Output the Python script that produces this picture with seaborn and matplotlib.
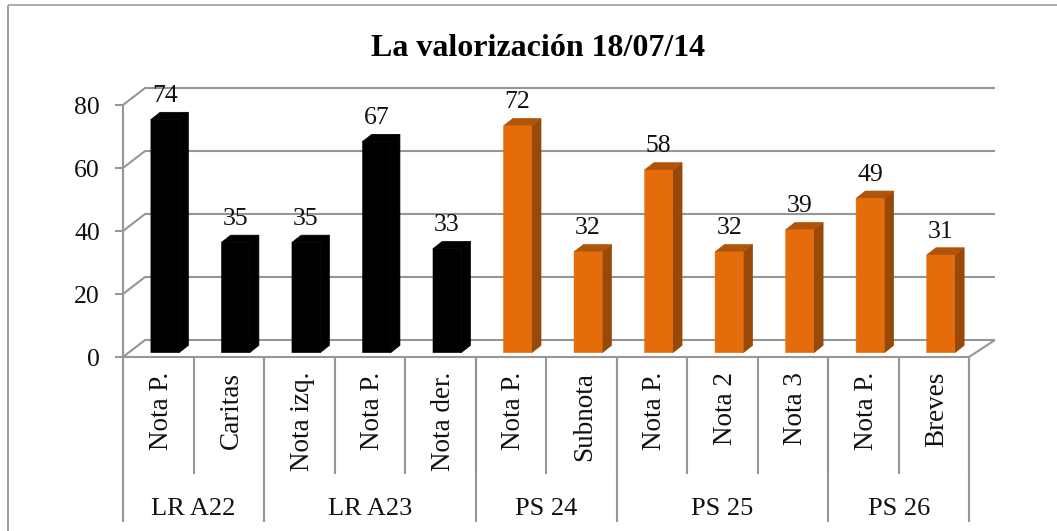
import matplotlib
matplotlib.use("Agg")
import matplotlib.pyplot as plt
import pandas as pd
import seaborn as sns
from matplotlib.lines import Line2D
from matplotlib.patches import Polygon
from matplotlib.transforms import IdentityTransform

# values
labels = ['Nota P.', 'Caritas', 'Nota izq.', 'Nota P.', 'Nota der.', 'Nota P.',
          'Subnota', 'Nota P.', 'Nota 2', 'Nota 3', 'Nota P.', 'Breves']
values = [74, 35, 35, 67, 33, 72, 32, 58, 32, 39, 49, 31]
papers = ['LR'] * 5 + ['PS'] * 7
groups = ['LR A22', 'LR A23', 'PS 24', 'PS 25', 'PS 26']
group_sizes = [2, 3, 2, 3, 2]
y_ticks = [0, 20, 40, 60, 80]
title = 'La valorización 18/07/14'

W, H = 1057, 531
GRID = '#969696'
FACE = {'LR': '#000000', 'PS': '#E46C0A'}
TOP = {'LR': '#000000', 'PS': '#B05408'}
SIDE = {'LR': '#000000', 'PS': '#984807'}

sns.set_theme(style='white')
plt.rcParams['font.family'] = ['Liberation Serif', 'DejaVu Serif']

fig = plt.figure(figsize=(W / 100, H / 100), dpi=100)
# axes sit on the plane of the bars: 0 at y=352.7, 80 at y=100.7, in image pixels
ax = fig.add_axes([129.7 / W, 1 - 352.7 / H, 846.3 / W, 252 / H])
ax.patch.set_alpha(0)

df = pd.DataFrame({'pos': range(len(values)), 'value': values, 'paper': papers})
sns.barplot(data=df, x='pos', y='value', hue='paper', palette=FACE, dodge=False,
            width=0.4, legend=False, ax=ax, saturation=1, linewidth=0)
ax.set_xlim(-0.5, len(values) - 0.5)
ax.set_ylim(0, 80)
ax.axis('off')


def frame_line(xs, ys, lw=1.5):
    # xs, ys in image pixels, y measured from the top
    fig.add_artist(Line2D(xs, [H - y for y in ys], color=GRID, lw=lw, zorder=-1,
                          transform=IdentityTransform(), solid_capstyle='butt'))


# chart border: left and top only, the reference is cropped on the other sides
frame_line([8, 8], [5, H], lw=1.3)
frame_line([8, W], [5, 5], lw=1.1)

# walls, floor and value ticks
for t in y_ticks:
    y_front = 357 - t * 3.15
    y_back = 340 - t * 3.15
    frame_line([115, 123, 145, 995], [y_front, y_front, y_back, y_back])
frame_line([123, 123], [105, 522])
frame_line([123, 969, 995], [357, 357, 340])
for t, y_front in zip(y_ticks, [357 - t * 3.15 for t in y_ticks]):
    fig.text(100 / W, 1 - (y_front + 9) / H, str(t), ha='right', va='baseline',
             fontsize=18.5, color='#111111')

# category cells under the axis
step = 846.3 / len(values)
for i in range(1, len(values) + 1):
    frame_line([123 + i * step] * 2, [357, 474])
start = 0
for name, size in zip(groups, group_sizes):
    end = start + size
    frame_line([123 + end * step] * 2, [357, 522])
    fig.text((123 + (start + end) / 2 * step) / W, 1 - 515 / H, name, ha='center',
             va='baseline', fontsize=19, color='#111111')
    start = end
for i, lab in enumerate(labels):
    fig.text((126 + (i + 0.5) * step) / W, 1 - 372 / H, lab, rotation=90, ha='center',
             va='top', fontsize=19.5, color='#111111')

# depth of the bars plus value labels
dx, dy = 9.3, 7.3
for bar, val, paper in zip(ax.patches, values, papers):
    bar.set_snap(False)
    bar.set_edgecolor(FACE[paper])
    bar.set_linewidth(0.3)
    (x0, y0), (x1, y1) = ax.transData.transform(
        [(bar.get_x(), 0), (bar.get_x() + bar.get_width(), bar.get_height())])
    side = [(x1, y0), (x1 + dx, y0 + dy), (x1 + dx, y1 + dy), (x1, y1)]
    top = [(x0, y1), (x0 + dx, y1 + dy), (x1 + dx, y1 + dy), (x1, y1)]
    fig.add_artist(Polygon(side, fc=SIDE[paper], ec=SIDE[paper], lw=0.5,
                           transform=IdentityTransform(), zorder=-0.5))
    fig.add_artist(Polygon(top, fc=TOP[paper], ec=TOP[paper], lw=0.5,
                           transform=IdentityTransform(), zorder=-0.5))
    ax.annotate(str(val), (bar.get_x() + bar.get_width() / 2, val), xytext=(0, 12.6),
                textcoords='offset points', ha='center', va='baseline', fontsize=18.5,
                color='#111111', annotation_clip=False, zorder=5)

fig.text(538 / W, 1 - 56 / H, title, ha='center', va='baseline', fontsize=23,
         fontweight='bold', color='#000000')

fig.savefig('out.png', dpi=100)
